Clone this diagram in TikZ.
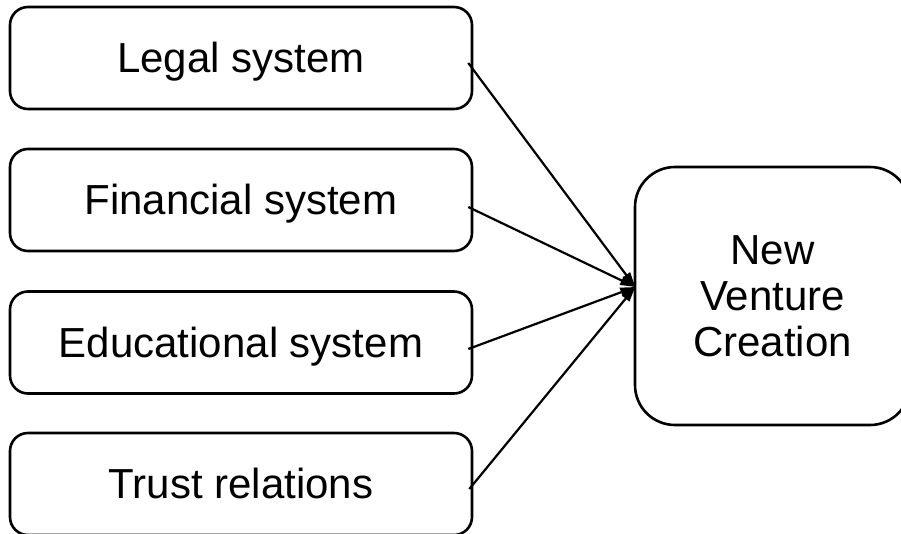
\documentclass[tikz,border=0pt]{standalone}
\usepackage{fontspec}
\setmainfont{Liberation Sans}
\usetikzlibrary{arrows.meta}
\begin{document}
\begin{tikzpicture}[x=1pt,y=-1pt,
  factor/.style={draw, line width=2.6pt, rounded corners=18pt,
    minimum width=462pt, minimum height=102pt, inner sep=0pt,
    text height=38pt, text depth=9pt,
    font=\fontsize{42}{48}\selectfont},
  outcome/.style={draw, line width=2.6pt, rounded corners=40pt,
    minimum width=275pt, minimum height=258pt, inner sep=0pt, align=center,
    font=\fontsize{42}{46}\selectfont},
  link/.style={line width=2.2pt, -{Triangle[length=15pt,width=9pt]}}]
\useasboundingbox (0,0) rectangle (901,533);
\node[factor] (legal) at (241,58) {Legal system};
\node[factor] (fin) at (241,200) {Financial system};
\node[factor] (edu) at (241,342.5) {Educational system};
\node[factor] (trust) at (241,484) {Trust relations};
\node[outcome] (nvc) at (772.5,296) {New\\Venture\\Creation};
\coordinate (s1) at ([shift={(-5,5)}]legal.east);
\coordinate (s2) at ([shift={(-5,7)}]fin.east);
\coordinate (s3) at ([shift={(-5,6.5)}]edu.east);
\coordinate (s4) at ([shift={(-4,5)}]trust.east);
\coordinate (hub) at ([shift={(1.5,-9)}]nvc.west);
\foreach \s in {s1,s2,s3,s4}
  \draw[link] (\s) -- (hub);
\end{tikzpicture}
\end{document}
